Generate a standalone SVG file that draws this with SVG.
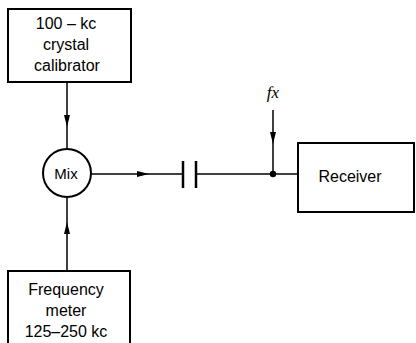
<svg xmlns="http://www.w3.org/2000/svg" width="416" height="343" viewBox="0 0 416 343">
<style>
.box{fill:#fff;stroke:#000;stroke-width:2}
.ln{fill:none;stroke:#000;stroke-width:1.5}
.t{font-family:"Liberation Sans",Arial,sans-serif;font-size:16px;fill:#000;text-anchor:middle}
</style>
<defs>
<marker id="ah" markerWidth="12" markerHeight="8" refX="11" refY="4" orient="auto" markerUnits="userSpaceOnUse">
<path d="M0,1 L12,4 L0,7 Z" fill="#000"/>
</marker>
</defs>
<rect width="416" height="343" fill="#fff"/>
<g id="connectors">
<line class="ln" x1="67" y1="82" x2="67" y2="126" marker-end="url(#ah)"/>
<line class="ln" x1="67" y1="126" x2="67" y2="149"/>
<line class="ln" x1="67" y1="271" x2="67" y2="223" marker-end="url(#ah)"/>
<line class="ln" x1="67" y1="223" x2="67" y2="197"/>
<line class="ln" x1="91" y1="174" x2="148" y2="174" marker-end="url(#ah)"/>
<line class="ln" x1="148" y1="174" x2="183" y2="174"/>
<line class="ln" x1="183" y1="161" x2="183" y2="188" style="stroke-width:2.5"/>
<line class="ln" x1="196" y1="161" x2="196" y2="188" style="stroke-width:2.5"/>
<line class="ln" x1="196" y1="174" x2="298" y2="174"/>
<line class="ln" x1="273" y1="110" x2="273" y2="143" marker-end="url(#ah)"/>
<line class="ln" x1="273" y1="143" x2="273" y2="174"/>
<circle cx="273" cy="174" r="3.2" fill="#000"/>
<text x="273" y="98" class="t" style="font-style:italic;font-family:'Liberation Serif',serif;font-size:17px">fx</text>
</g>
<g id="calibrator">
<rect class="box" x="8" y="9" width="123" height="73"/>
<text class="t" x="66" y="29">100 – kc</text>
<text class="t" x="66" y="50">crystal</text>
<text class="t" x="67" y="71">calibrator</text>
</g>
<g id="mix">
<circle class="box" cx="67" cy="173" r="24"/>
<text class="t" x="66" y="179" style="font-size:15px">Mix</text>
</g>
<g id="freqmeter">
<rect class="box" x="8" y="271" width="122" height="80"/>
<text class="t" x="66" y="295">Frequency</text>
<text class="t" x="66" y="316">meter</text>
<text class="t" x="66" y="337">125–250 kc</text>
</g>
<g id="receiver">
<rect class="box" x="298" y="143" width="116" height="69"/>
<text class="t" x="350" y="182">Receiver</text>
</g>
</svg>
